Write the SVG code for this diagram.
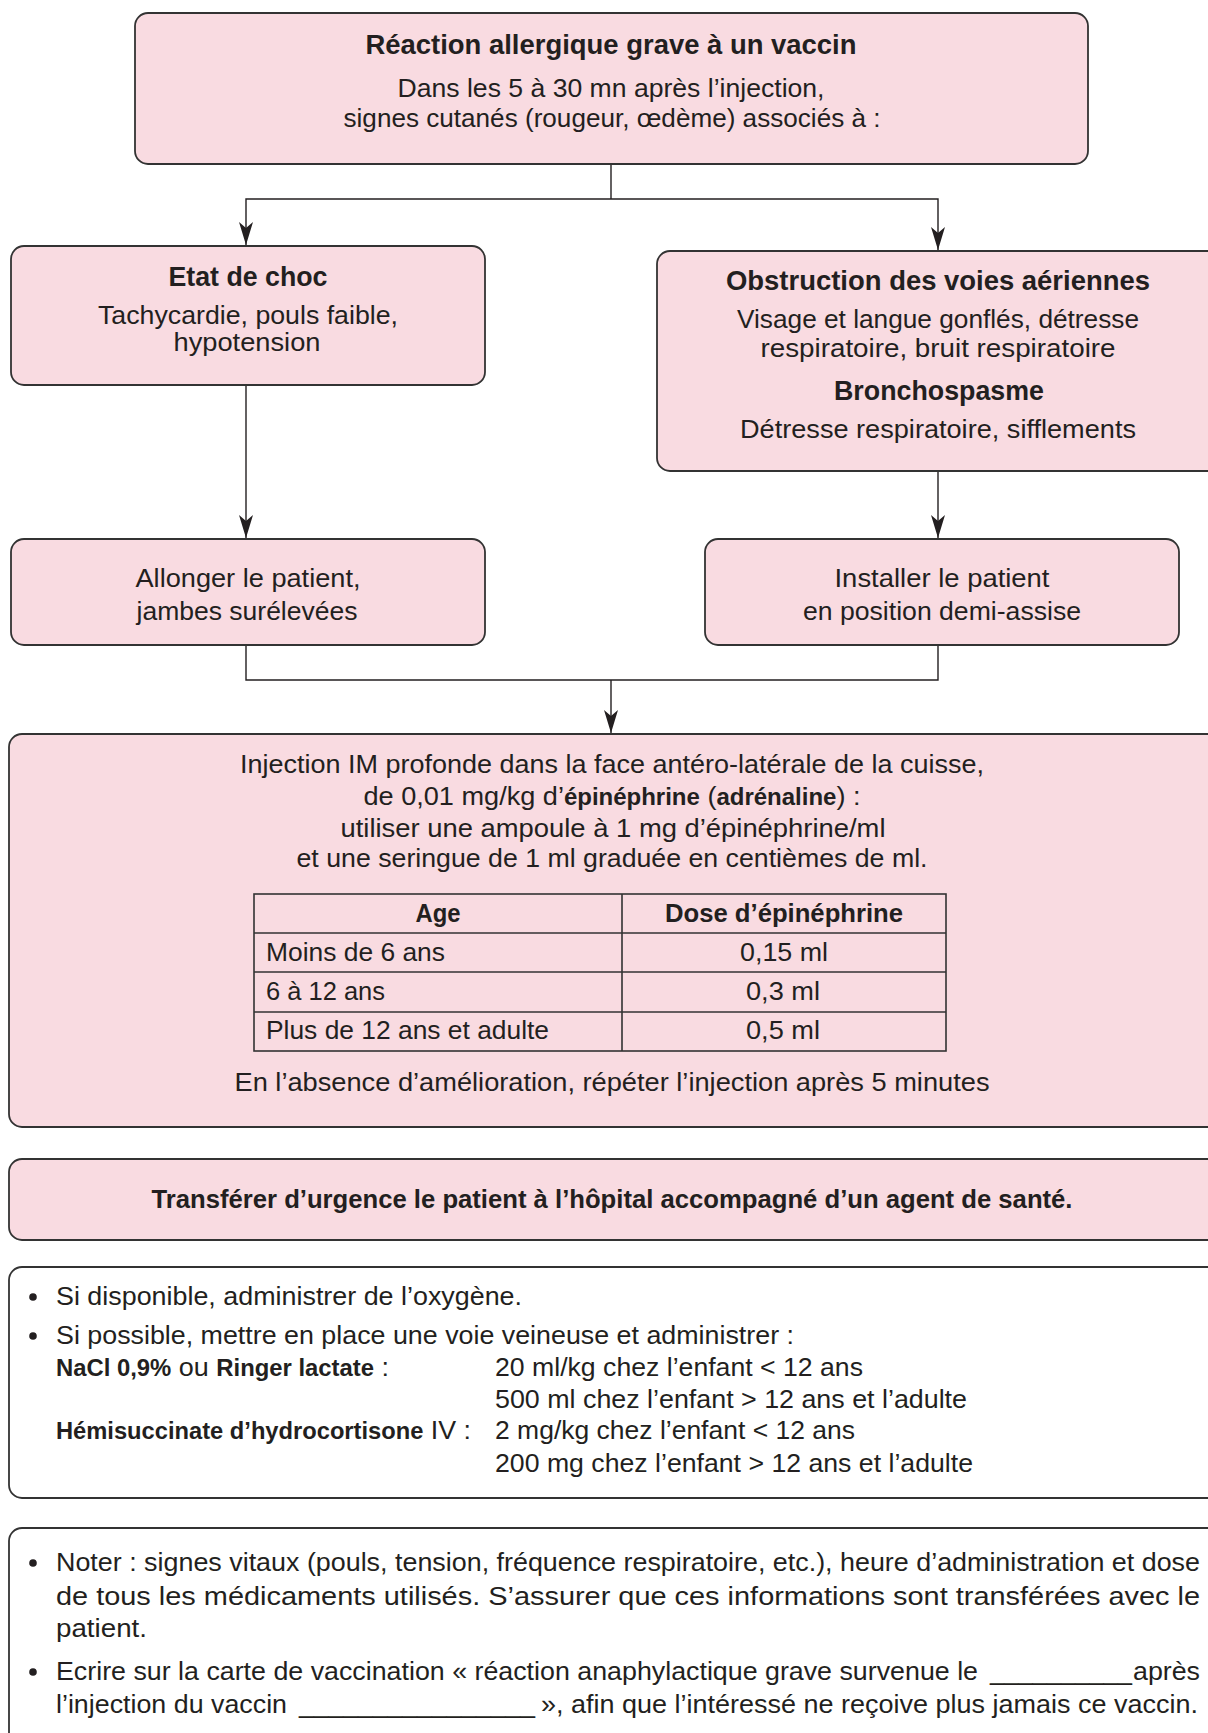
<svg xmlns="http://www.w3.org/2000/svg" width="1208" height="1733" viewBox="0 0 1208 1733">
<defs>
<style>
.box{fill:#F9DBE1;stroke:#333;stroke-width:1.8}
.wbox{fill:#fff;stroke:#333;stroke-width:1.8}
.t{font-family:"Liberation Sans",Arial,sans-serif;font-size:26px;fill:#231F20}
.c{text-anchor:middle}
.b{font-weight:bold;font-size:25px}
.h{font-size:27px;font-weight:bold}
.ab{font-weight:bold;font-size:23px}
.ln{fill:none;stroke:#231F20;stroke-width:1.4}
.tb{fill:none;stroke:#333;stroke-width:1.6}
.dot{fill:#231F20}
</style>
<marker id="arr" markerUnits="userSpaceOnUse" markerWidth="24" markerHeight="14" viewBox="0 0 24 14" refX="23" refY="7" orient="auto">
<path d="M0,0 L23,7 L0,14 L6,7 Z" fill="#231F20"/>
</marker>
</defs>
<rect width="1208" height="1733" fill="#fff"/>

<g id="connectors">
<path class="ln" d="M611,164 V199"/>
<path class="ln" d="M611,199 H246 V245" marker-end="url(#arr)"/>
<path class="ln" d="M611,199 H938 V250" marker-end="url(#arr)"/>
<path class="ln" d="M246,385 V538" marker-end="url(#arr)"/>
<path class="ln" d="M938,471 V538" marker-end="url(#arr)"/>
<path class="ln" d="M246,645 V680 H611"/>
<path class="ln" d="M938,645 V680 H611"/>
<path class="ln" d="M611,680 V733" marker-end="url(#arr)"/>
</g>

<g id="node-reaction">
<rect class="box" x="135" y="13" width="953" height="151" rx="13"/>
<text class="t c h" x="611" y="54" textLength="491" lengthAdjust="spacingAndGlyphs">Réaction allergique grave à un vaccin</text>
<text class="t c" x="611" y="97" textLength="427" lengthAdjust="spacingAndGlyphs">Dans les 5 à 30 mn après l’injection,</text>
<text class="t c" x="612" y="127" textLength="537" lengthAdjust="spacingAndGlyphs">signes cutanés (rougeur, œdème) associés à :</text>
</g>

<g id="node-choc">
<rect class="box" x="11" y="246" width="474" height="139" rx="13"/>
<text class="t c h" x="248" y="286" textLength="159" lengthAdjust="spacingAndGlyphs">Etat de choc</text>
<text class="t c" x="248" y="324" textLength="300" lengthAdjust="spacingAndGlyphs">Tachycardie, pouls faible,</text>
<text class="t c" x="247" y="351" textLength="147" lengthAdjust="spacingAndGlyphs">hypotension</text>
</g>

<g id="node-obstruction">
<rect class="box" x="657" y="251" width="570" height="220" rx="13"/>
<text class="t c h" x="938" y="290" textLength="424" lengthAdjust="spacingAndGlyphs">Obstruction des voies aériennes</text>
<text class="t c" x="938" y="328" textLength="402" lengthAdjust="spacingAndGlyphs">Visage et langue gonflés, détresse</text>
<text class="t c" x="938" y="357" textLength="355" lengthAdjust="spacingAndGlyphs">respiratoire, bruit respiratoire</text>
<text class="t c h" x="939" y="400" textLength="210" lengthAdjust="spacingAndGlyphs">Bronchospasme</text>
<text class="t c" x="938" y="438" textLength="396" lengthAdjust="spacingAndGlyphs">Détresse respiratoire, sifflements</text>
</g>

<g id="node-allonger">
<rect class="box" x="11" y="539" width="474" height="106" rx="13"/>
<text class="t c" x="248" y="587" textLength="225" lengthAdjust="spacingAndGlyphs">Allonger le patient,</text>
<text class="t c" x="247" y="620" textLength="221" lengthAdjust="spacingAndGlyphs">jambes surélevées</text>
</g>

<g id="node-installer">
<rect class="box" x="705" y="539" width="474" height="106" rx="13"/>
<text class="t c" x="942" y="587" textLength="215" lengthAdjust="spacingAndGlyphs">Installer le patient</text>
<text class="t c" x="942" y="620" textLength="278" lengthAdjust="spacingAndGlyphs">en position demi-assise</text>
</g>

<g id="node-injection">
<rect class="box" x="9" y="734" width="1212" height="393" rx="13"/>
<text class="t c" x="612" y="773" textLength="744" lengthAdjust="spacingAndGlyphs">Injection IM profonde dans la face antéro-latérale de la cuisse,</text>
<text class="t c" x="612" y="805" textLength="497" lengthAdjust="spacingAndGlyphs">de 0,01 mg/kg d’<tspan class="ab">épinéphrine</tspan> (<tspan class="ab">adrénaline</tspan>) :</text>
<text class="t c" x="613" y="837" textLength="545" lengthAdjust="spacingAndGlyphs">utiliser une ampoule à 1 mg d’épinéphrine/ml</text>
<text class="t c" x="612" y="867" textLength="631" lengthAdjust="spacingAndGlyphs">et une seringue de 1 ml graduée en centièmes de ml.</text>
<g id="table">
<rect class="tb" x="254" y="894" width="692" height="157"/>
<path class="tb" d="M622,894 V1051 M254,933 H946 M254,972 H946 M254,1012 H946"/>
<text class="t c b" x="438" y="922" textLength="45" lengthAdjust="spacingAndGlyphs">Age</text>
<text class="t c b" x="784" y="922" textLength="238" lengthAdjust="spacingAndGlyphs">Dose d’épinéphrine</text>
<text class="t" x="266" y="961" textLength="179" lengthAdjust="spacingAndGlyphs">Moins de 6 ans</text>
<text class="t c" x="784" y="961" textLength="88" lengthAdjust="spacingAndGlyphs">0,15 ml</text>
<text class="t" x="266" y="1000" textLength="119" lengthAdjust="spacingAndGlyphs">6 à 12 ans</text>
<text class="t c" x="783" y="1000" textLength="74" lengthAdjust="spacingAndGlyphs">0,3 ml</text>
<text class="t" x="266" y="1039" textLength="283" lengthAdjust="spacingAndGlyphs">Plus de 12 ans et adulte</text>
<text class="t c" x="783" y="1039" textLength="74" lengthAdjust="spacingAndGlyphs">0,5 ml</text>
</g>
<text class="t c" x="612" y="1091" textLength="755" lengthAdjust="spacingAndGlyphs">En l’absence d’amélioration, répéter l’injection après 5 minutes</text>
</g>

<g id="node-transfert">
<rect class="box" x="9" y="1159" width="1212" height="81" rx="13"/>
<text class="t c b" x="612" y="1208" textLength="921" lengthAdjust="spacingAndGlyphs">Transférer d’urgence le patient à l’hôpital accompagné d’un agent de santé.</text>
</g>

<g id="node-soins">
<rect class="wbox" x="9" y="1267" width="1212" height="231" rx="13"/>
<circle class="dot" cx="33" cy="1297" r="3.8"/>
<text class="t" x="56" y="1305" textLength="466" lengthAdjust="spacingAndGlyphs">Si disponible, administrer de l’oxygène.</text>
<circle class="dot" cx="33" cy="1336" r="3.8"/>
<text class="t" x="56" y="1344" textLength="738" lengthAdjust="spacingAndGlyphs">Si possible, mettre en place une voie veineuse et administrer :</text>
<text class="t" x="56" y="1376" textLength="333" lengthAdjust="spacingAndGlyphs"><tspan class="ab">NaCl 0,9%</tspan> ou <tspan class="ab">Ringer lactate</tspan> :</text>
<text class="t" x="495" y="1376" textLength="368" lengthAdjust="spacingAndGlyphs">20 ml/kg chez l’enfant &lt; 12 ans</text>
<text class="t" x="495" y="1408" textLength="472" lengthAdjust="spacingAndGlyphs">500 ml chez l’enfant &gt; 12 ans et l’adulte</text>
<text class="t" x="56" y="1439" textLength="415" lengthAdjust="spacingAndGlyphs"><tspan class="ab">Hémisuccinate d’hydrocortisone</tspan> IV :</text>
<text class="t" x="495" y="1439" textLength="360" lengthAdjust="spacingAndGlyphs">2 mg/kg chez l’enfant &lt; 12 ans</text>
<text class="t" x="495" y="1472" textLength="478" lengthAdjust="spacingAndGlyphs">200 mg chez l’enfant &gt; 12 ans et l’adulte</text>
</g>

<g id="node-noter">
<rect class="wbox" x="9" y="1528" width="1212" height="260" rx="13"/>
<circle class="dot" cx="33" cy="1563" r="3.8"/>
<text class="t" x="56" y="1571" textLength="1144" lengthAdjust="spacingAndGlyphs">Noter : signes vitaux (pouls, tension, fréquence respiratoire, etc.), heure d’administration et dose</text>
<text class="t" x="56" y="1605" textLength="1144" lengthAdjust="spacingAndGlyphs">de tous les médicaments utilisés. S’assurer que ces informations sont transférées avec le</text>
<text class="t" x="56" y="1637" textLength="91" lengthAdjust="spacingAndGlyphs">patient.</text>
<circle class="dot" cx="33" cy="1672" r="3.8"/>
<text class="t" x="56" y="1680" textLength="922" lengthAdjust="spacingAndGlyphs">Ecrire sur la carte de vaccination « réaction anaphylactique grave survenue le</text>
<text class="t" x="990" y="1680" textLength="142" lengthAdjust="spacingAndGlyphs">__________</text>
<text class="t" x="1133" y="1680" textLength="67" lengthAdjust="spacingAndGlyphs">après</text>
<text class="t" x="56" y="1713" textLength="231" lengthAdjust="spacingAndGlyphs">l’injection du vaccin</text>
<text class="t" x="299" y="1713" textLength="236" lengthAdjust="spacingAndGlyphs">________________</text>
<text class="t" x="541" y="1713" textLength="657" lengthAdjust="spacingAndGlyphs">», afin que l’intéressé ne reçoive plus jamais ce vaccin.</text>
</g>
</svg>
